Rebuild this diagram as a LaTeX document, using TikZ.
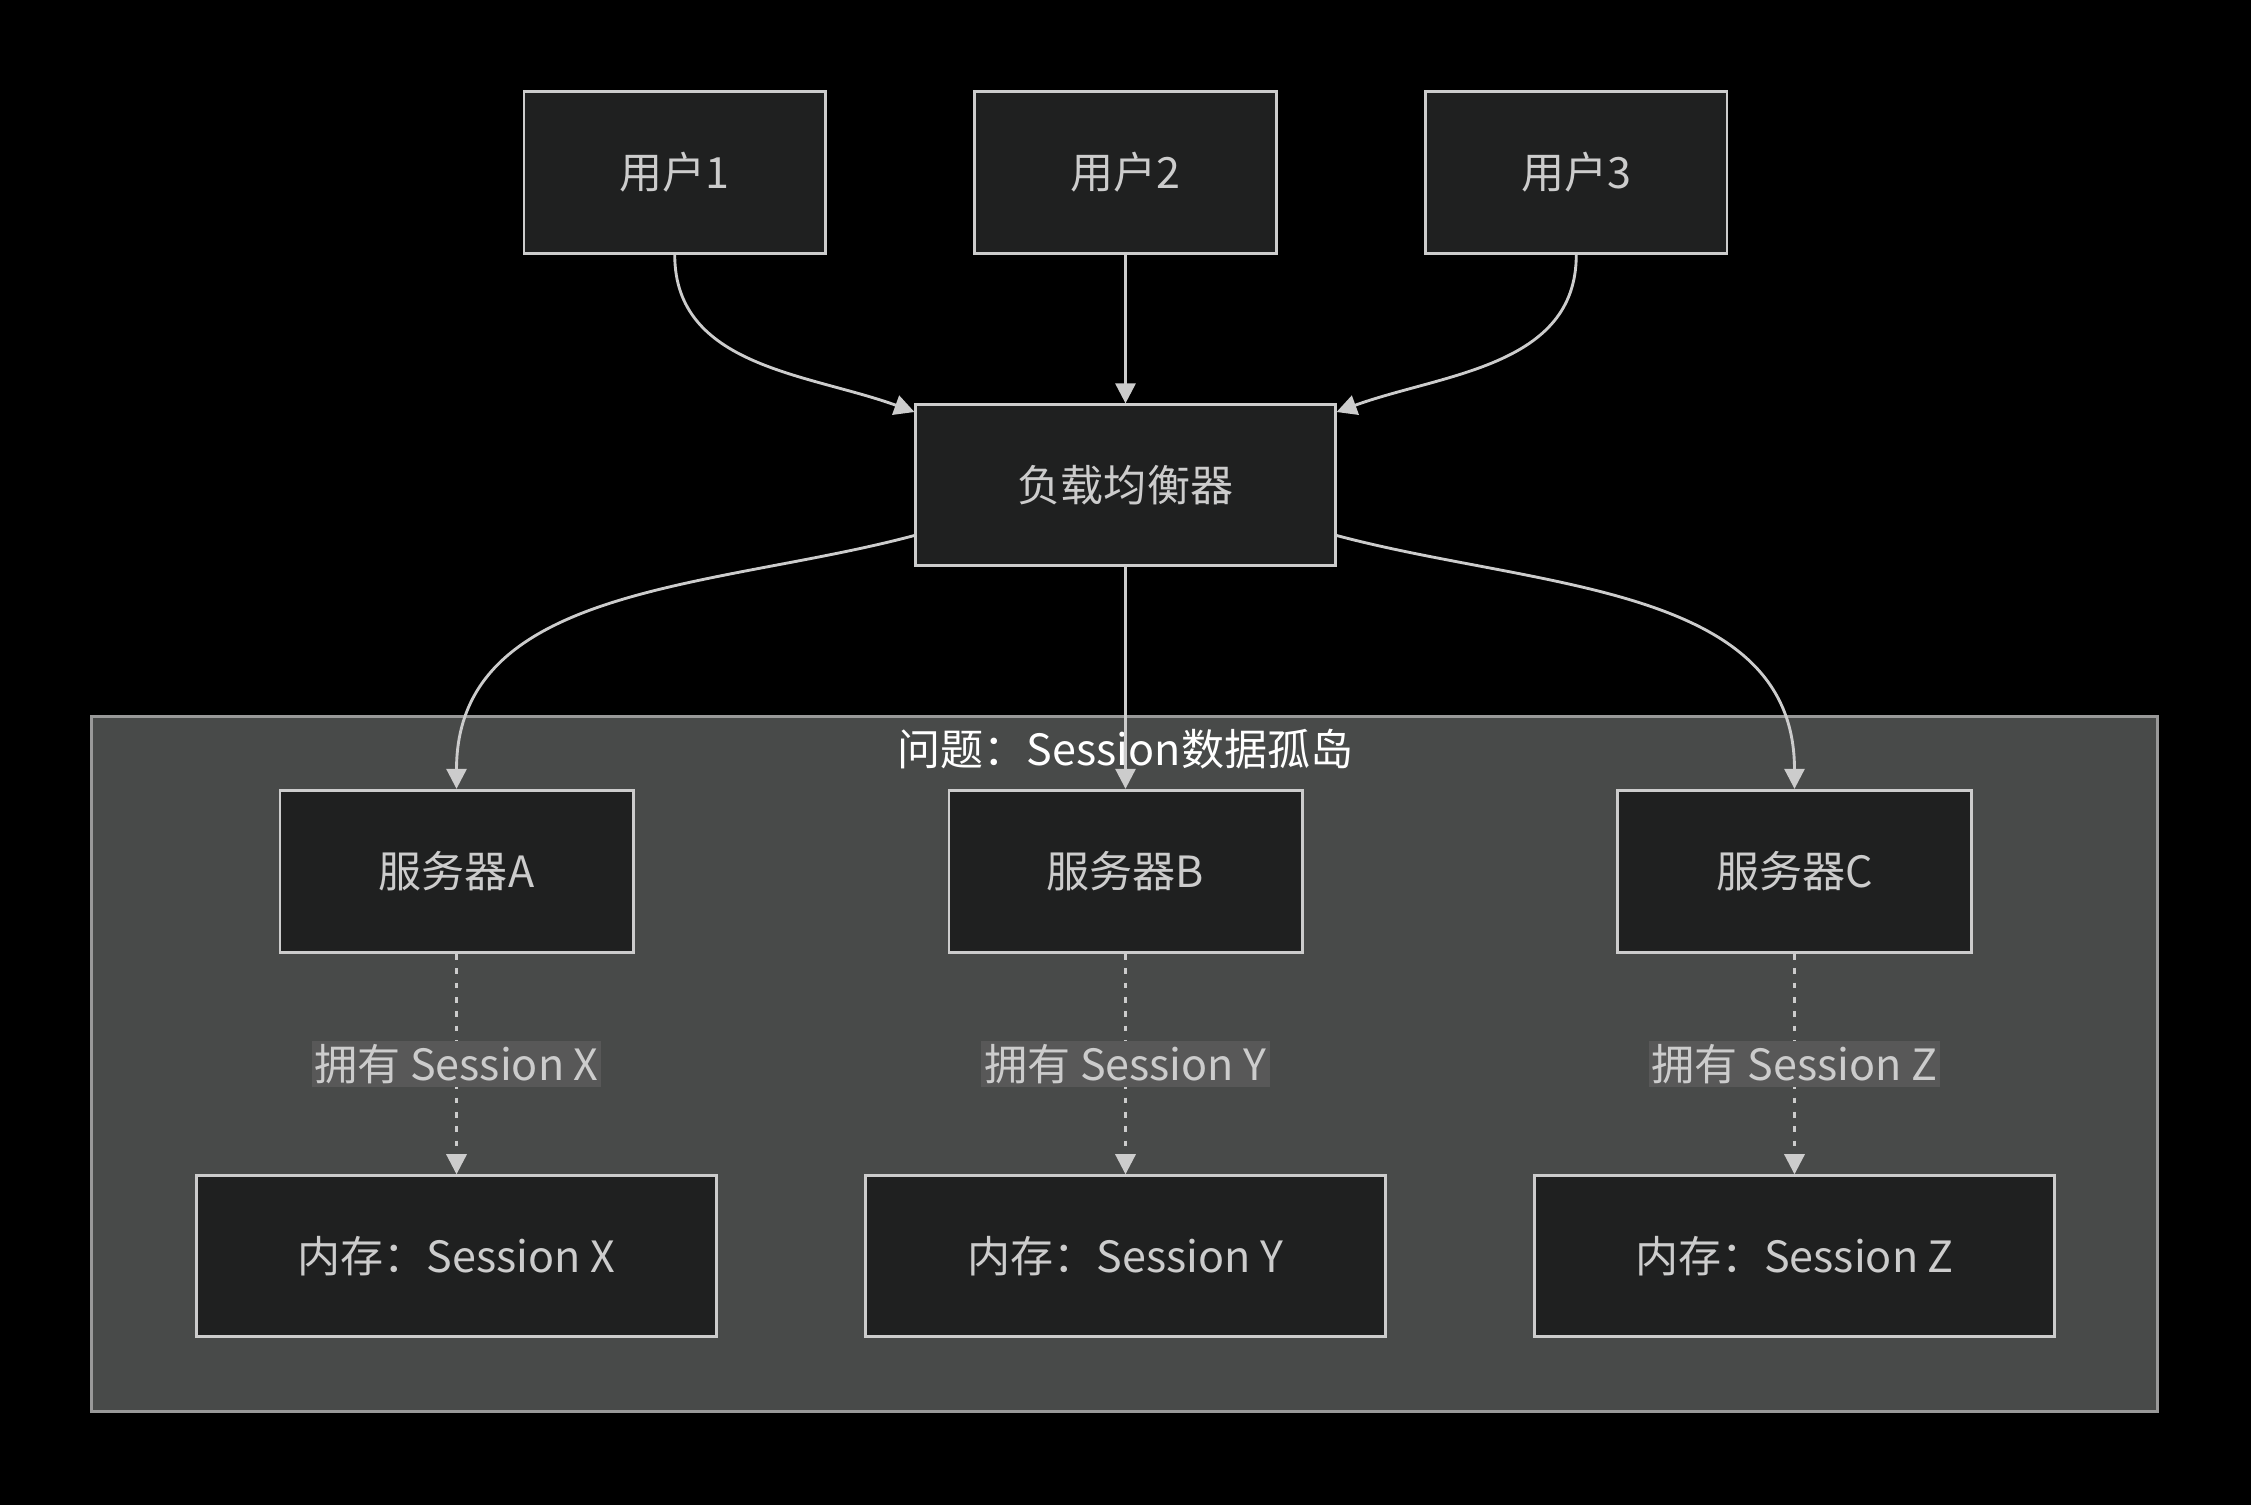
\documentclass[tikz,border=0pt]{standalone}
\usepackage{fontspec}
\setmainfont{Noto Sans CJK SC}
\usetikzlibrary{arrows.meta}
\definecolor{nodefill}{HTML}{1F2020}
\definecolor{linecol}{HTML}{CCCCCC}
\definecolor{clusterfill}{HTML}{484A49}
\definecolor{labelfill}{HTML}{585858}
\tikzset{bb/.style={draw=linecol, fill=nodefill, text=linecol, line width=1pt, inner sep=0pt, font=\fontsize{15}{18}\selectfont},
  link/.style={draw=linecol, line width=1pt, -{Triangle[length=7pt,width=7pt]}},
  own/.style={link, dash pattern=on 2pt off 3pt},
  lbl/.style={fill=labelfill, text=linecol, inner sep=1pt, font=\fontsize{15}{18}\selectfont}}

\begin{document}
\begin{tikzpicture}[x=0.5pt, y=-0.5pt]
    \fill[black] (0,0) rectangle (1568,1048);
    \useasboundingbox (0,0) rectangle (1568,1048);
    
    \draw[draw=gray!80, fill=clusterfill, line width=1pt] (64,499) rectangle (1503,983);
    \node[text=white, font=\fontsize{15}{18}\selectfont] (title) at (784,522) {问题：Session数据孤岛};
    
    \node[bb, minimum width=105pt, minimum height=56.5pt] (user1) at (470,120) {用户1};
    \node[bb, minimum width=105pt, minimum height=56.5pt] (user2) at (784,120) {用户2};
    \node[bb, minimum width=105pt, minimum height=56.5pt] (user3) at (1098,120) {用户3};
    
    \node[bb, minimum width=146pt, minimum height=56pt] (lb) at (784,338) {负载均衡器};
    
    \node[bb, minimum width=123pt, minimum height=56.5pt] (srvA) at (318,607) {服务器A};
    \node[bb, minimum width=123pt, minimum height=56.5pt] (srvB) at (784,607) {服务器B};
    \node[bb, minimum width=123pt, minimum height=56.5pt] (srvC) at (1250,607) {服务器C};
    
    \node[bb, minimum width=181pt, minimum height=56pt] (memA) at (318,875) {内存：Session X};
    \node[bb, minimum width=181pt, minimum height=56pt] (memB) at (784,875) {内存：Session Y};
    \node[bb, minimum width=181pt, minimum height=56pt] (memC) at (1250,875) {内存：Session Z};
    
    \draw[link] (user1.south) to[out = -90, in = 160] ([yshift=-3pt]lb.north west);
    \draw[link] (user2) -- (lb);
    \draw[link] (user3.south) to[out = -90, in = 20] ([yshift=-3pt]lb.north east);
    
    \draw[link] ([yshift=-17.5pt]lb.west) to[out = 195, in = 90] (srvA.north);
    \draw[link] (lb) -- (srvB);
    \draw[link] ([yshift=-17.5pt]lb.east) to[out = -15, in = 90] (srvC.north);
    
    \draw[own] (srvA) -- node[lbl]{拥有 Session X} (memA);
    \draw[own] (srvB) -- node[lbl]{拥有 Session Y} (memB);
    \draw[own] (srvC) -- node[lbl]{拥有 Session Z} (memC);
    
    \end{tikzpicture}
\end{document}
